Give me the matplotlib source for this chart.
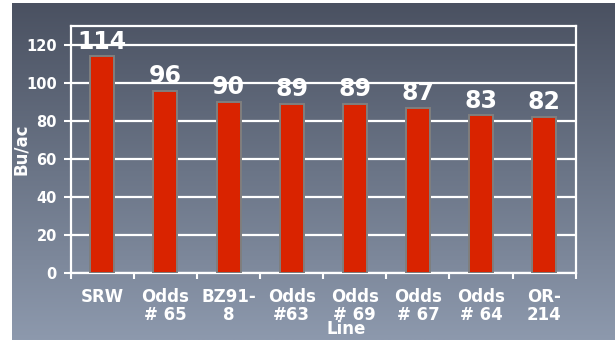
import numpy as np
import matplotlib
matplotlib.use("Agg")
import matplotlib.pyplot as plt
from matplotlib.colors import LinearSegmentedColormap

categories = ["SRW", "Odds\n# 65", "BZ91-\n8", "Odds\n#63", "Odds\n# 69", "Odds\n# 67", "Odds\n# 64", "OR-\n214"]
values = [114, 96, 90, 89, 89, 87, 83, 82]
yticks = [0, 20, 40, 60, 80, 100, 120]

plt.rcParams['font.family'] = ['DejaVu Sans']
plt.rcParams['font.weight'] = 'bold'

W, H = 615, 341
fig = plt.figure(figsize=(W / 100, H / 100), dpi=100)
fig.patch.set_facecolor('white')

# gradient background panel
bg = fig.add_axes([12 / W, 1 / H, 1 - 12 / W, (341 - 4) / H])
bg.set_axis_off()
cmap = LinearSegmentedColormap.from_list('bg', ['#4a5161', '#6b7587', '#8d99ad'])
grad = np.linspace(0, 1, 256).reshape(-1, 1)
bg.imshow(grad, aspect='auto', cmap=cmap, extent=[0, 1, 0, 1], origin='upper')
bg.set_xlim(0, 1)
bg.set_ylim(0, 1)

ax = fig.add_axes([70.7 / W, (341 - 273) / H, (575.7 - 70.7) / W, (273 - 26) / H])
ax.set_facecolor('none')
x = np.arange(len(categories))
bars = ax.bar(x, values, width=0.38, color='#d92300', edgecolor='#7f7f7f', linewidth=1.4, zorder=3)

ax.set_xlim(-0.5, len(categories) - 0.5)
ax.set_ylim(0, 130)
ax.set_yticks(yticks)
ax.set_yticklabels([str(v) for v in yticks], fontsize=10.5, color='white', fontweight='bold')
ax.yaxis.grid(True, color='white', linewidth=1.6, zorder=1)
ax.set_axisbelow(True)
ax.tick_params(axis='y', direction='out', length=5, width=1.5, color='white', pad=5)

ax.set_xticks(x)
ax.set_xticklabels(categories, fontsize=12, color='white', fontweight='bold', linespacing=1.0)
ax.set_xticks(np.arange(-0.5, len(categories), 1.0), minor=True)
ax.tick_params(axis='x', which='major', length=0, pad=11)
ax.tick_params(axis='x', which='minor', direction='out', length=4, width=1.5, color='white')

for s in ax.spines.values():
    s.set_color('white')
    s.set_linewidth(1.6)

for xi, v in zip(x, values):
    ax.annotate(str(v), (xi, v), xytext=(0, 2), textcoords='offset points',
                ha='center', va='bottom', fontsize=17, color='white', fontweight='bold', zorder=4)

ax.set_ylabel('Bu/ac', fontsize=12, color='white', fontweight='bold')
ax.yaxis.set_label_coords(-0.08, 0.5)
ax.set_xlabel('Line', fontsize=12, color='white', fontweight='bold')
ax.xaxis.set_label_coords(0.545, -0.19)

fig.savefig('out.png', dpi=100)
